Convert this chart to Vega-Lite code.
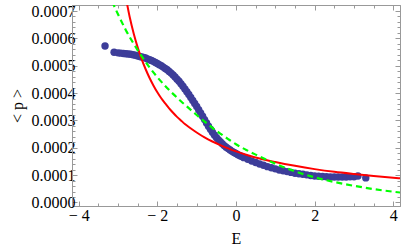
{
  "$schema": "https://vega.github.io/schema/vega-lite/v6.json",
  "width": 328,
  "height": 201,
  "autosize": {"type": "none"},
  "padding": {"left": 72, "top": 5, "right": 2, "bottom": 46},
  "background": "white",
  "config": {
    "view": {"stroke": "#999999", "strokeWidth": 1},
    "axis": {
      "grid": false,
      "domainColor": "#999999",
      "tickColor": "#999999",
      "labelFont": "Liberation Serif",
      "labelFontSize": 16,
      "labelColor": "#000000",
      "titleFont": "Liberation Serif",
      "titleFontSize": 16,
      "titleFontWeight": "normal",
      "titleColor": "#000000"
    }
  },
  "datasets": {
    "pts": [
      {"E": -3.33, "p": 0.000572}, {"E": -3.10, "p": 0.000549}, {"E": -3.00, "p": 0.000547}, {"E": -2.93, "p": 0.000546},
      {"E": -2.86, "p": 0.000545}, {"E": -2.80, "p": 0.000544}, {"E": -2.74, "p": 0.000543}, {"E": -2.68, "p": 0.000542},
      {"E": -2.62, "p": 0.000540}, {"E": -2.56, "p": 0.000538}, {"E": -2.50, "p": 0.000536}, {"E": -2.45, "p": 0.000534},
      {"E": -2.40, "p": 0.000532}, {"E": -2.35, "p": 0.000530}, {"E": -2.30, "p": 0.000528}, {"E": -2.25, "p": 0.000525},
      {"E": -2.20, "p": 0.000522}, {"E": -2.15, "p": 0.000519}, {"E": -2.10, "p": 0.000516}, {"E": -2.05, "p": 0.000512},
      {"E": -2.00, "p": 0.000508}, {"E": -1.95, "p": 0.000504}, {"E": -1.90, "p": 0.000500}, {"E": -1.85, "p": 0.000495},
      {"E": -1.80, "p": 0.000490}, {"E": -1.75, "p": 0.000485}, {"E": -1.70, "p": 0.000479}, {"E": -1.65, "p": 0.000473},
      {"E": -1.60, "p": 0.000466}, {"E": -1.55, "p": 0.000459}, {"E": -1.50, "p": 0.000451}, {"E": -1.45, "p": 0.000443},
      {"E": -1.40, "p": 0.000434}, {"E": -1.35, "p": 0.000425}, {"E": -1.30, "p": 0.000415}, {"E": -1.25, "p": 0.000405},
      {"E": -1.20, "p": 0.000395}, {"E": -1.15, "p": 0.000384}, {"E": -1.10, "p": 0.000373}, {"E": -1.05, "p": 0.000362},
      {"E": -1.00, "p": 0.000351}, {"E": -0.95, "p": 0.000339}, {"E": -0.90, "p": 0.000327}, {"E": -0.85, "p": 0.000315},
      {"E": -0.80, "p": 0.000303}, {"E": -0.75, "p": 0.000291}, {"E": -0.70, "p": 0.000279}, {"E": -0.65, "p": 0.000268},
      {"E": -0.60, "p": 0.000257}, {"E": -0.55, "p": 0.000247}, {"E": -0.50, "p": 0.000238}, {"E": -0.45, "p": 0.000230},
      {"E": -0.40, "p": 0.000222}, {"E": -0.35, "p": 0.000215}, {"E": -0.30, "p": 0.000208}, {"E": -0.25, "p": 0.000202},
      {"E": -0.20, "p": 0.000197}, {"E": -0.15, "p": 0.000192}, {"E": -0.10, "p": 0.000187}, {"E": -0.05, "p": 0.000183},
      {"E": 0.00, "p": 0.000179}, {"E": 0.05, "p": 0.000175}, {"E": 0.10, "p": 0.000171}, {"E": 0.15, "p": 0.000168},
      {"E": 0.20, "p": 0.000164}, {"E": 0.30, "p": 0.000158}, {"E": 0.40, "p": 0.000152}, {"E": 0.50, "p": 0.000146},
      {"E": 0.60, "p": 0.000141}, {"E": 0.70, "p": 0.000136}, {"E": 0.80, "p": 0.000131}, {"E": 0.90, "p": 0.000127},
      {"E": 1.00, "p": 0.000123}, {"E": 1.10, "p": 0.000119}, {"E": 1.20, "p": 0.000116}, {"E": 1.30, "p": 0.000113},
      {"E": 1.40, "p": 0.000110}, {"E": 1.50, "p": 0.000107}, {"E": 1.60, "p": 0.000105}, {"E": 1.70, "p": 0.000103},
      {"E": 1.80, "p": 0.000101}, {"E": 1.90, "p": 0.000099}, {"E": 2.00, "p": 0.000097}, {"E": 2.10, "p": 0.000096},
      {"E": 2.20, "p": 0.000095}, {"E": 2.30, "p": 0.000094}, {"E": 2.40, "p": 0.000093}, {"E": 2.50, "p": 0.000093},
      {"E": 2.60, "p": 0.000093}, {"E": 2.70, "p": 0.000093}, {"E": 2.80, "p": 0.000093}, {"E": 2.90, "p": 0.000094},
      {"E": 3.00, "p": 0.000094}, {"E": 3.10, "p": 0.000097}, {"E": 3.30, "p": 0.000090}
    ],
    "red": [
      {"E": -2.80, "p": 0.000749}, {"E": -2.70, "p": 0.000676}, {"E": -2.60, "p": 0.000617}, {"E": -2.50, "p": 0.000567},
      {"E": -2.40, "p": 0.000524}, {"E": -2.30, "p": 0.000488}, {"E": -2.20, "p": 0.000456}, {"E": -2.10, "p": 0.000428},
      {"E": -2.00, "p": 0.000403}, {"E": -1.90, "p": 0.000381}, {"E": -1.80, "p": 0.000362}, {"E": -1.70, "p": 0.000344},
      {"E": -1.60, "p": 0.000328}, {"E": -1.50, "p": 0.000313}, {"E": -1.40, "p": 0.000300}, {"E": -1.30, "p": 0.000287},
      {"E": -1.20, "p": 0.000276}, {"E": -1.00, "p": 0.000256}, {"E": -0.80, "p": 0.000238}, {"E": -0.60, "p": 0.000223},
      {"E": -0.40, "p": 0.000210}, {"E": -0.20, "p": 0.000198}, {"E": 0.00, "p": 0.000187}, {"E": 0.30, "p": 0.000173},
      {"E": 0.60, "p": 0.000161}, {"E": 1.00, "p": 0.000148}, {"E": 1.50, "p": 0.000134}, {"E": 2.00, "p": 0.000122},
      {"E": 2.50, "p": 0.000112}, {"E": 3.00, "p": 0.000104}, {"E": 3.50, "p": 0.0000968}, {"E": 4.20, "p": 0.0000882}
    ],
    "green": [
      {"E": -3.15, "p": 0.000735}, {"E": -3.00, "p": 0.000688}, {"E": -2.80, "p": 0.000630}, {"E": -2.60, "p": 0.000580},
      {"E": -2.40, "p": 0.000535}, {"E": -2.20, "p": 0.000494}, {"E": -2.00, "p": 0.000458}, {"E": -1.80, "p": 0.000426},
      {"E": -1.60, "p": 0.000397}, {"E": -1.40, "p": 0.000370}, {"E": -1.20, "p": 0.000345}, {"E": -1.00, "p": 0.000320},
      {"E": -0.80, "p": 0.000296}, {"E": -0.60, "p": 0.000273}, {"E": -0.40, "p": 0.000252}, {"E": -0.20, "p": 0.000232},
      {"E": 0.00, "p": 0.000213}, {"E": 0.25, "p": 0.000193}, {"E": 0.50, "p": 0.000175}, {"E": 0.75, "p": 0.000158},
      {"E": 1.00, "p": 0.000142}, {"E": 1.50, "p": 0.000114}, {"E": 2.00, "p": 0.000092}, {"E": 2.50, "p": 0.000075},
      {"E": 3.00, "p": 0.000061}, {"E": 3.50, "p": 0.000049}, {"E": 4.20, "p": 0.000036}
    ]
  },
  "resolve": {"axis": {"x": "independent", "y": "independent"}},
  "layer": [
    {
      "data": {"name": "pts"},
      "mark": {"type": "circle", "size": 55, "opacity": 1, "color": "#3D3D99"},
      "encoding": {
        "x": {
          "field": "E", "type": "quantitative",
          "scale": {"domain": [-4.17, 4.17], "nice": false, "zero": false},
          "axis": {
            "orient": "bottom", "title": "E", "titlePadding": 7,
            "values": [-4, -3.5, -3, -2.5, -2, -1.5, -1, -0.5, 0, 0.5, 1, 1.5, 2, 2.5, 3, 3.5, 4],
            "tickSize": {"condition": {"test": "abs(datum.value % 2) < 0.01", "value": -5}, "value": -3},
            "labelPadding": 6,
            "labelExpr": "abs(datum.value % 2) < 0.01 ? (datum.value < 0 ? '\u2212 ' + abs(datum.value) : '' + datum.value) : ''"
          }
        },
        "y": {
          "field": "p", "type": "quantitative",
          "scale": {"domain": [-0.0000128, 0.000722], "nice": false, "zero": false},
          "axis": {
            "orient": "left", "title": "< p >", "titlePadding": 6,
            "values": [0, 0.00002, 0.00004, 0.00006, 0.00008, 0.0001, 0.00012, 0.00014, 0.00016, 0.00018, 0.0002, 0.00022, 0.00024, 0.00026, 0.00028, 0.0003, 0.00032, 0.00034, 0.00036, 0.00038, 0.0004, 0.00042, 0.00044, 0.00046, 0.00048, 0.0005, 0.00052, 0.00054, 0.00056, 0.00058, 0.0006, 0.00062, 0.00064, 0.00066, 0.00068, 0.0007],
            "tickSize": {"condition": {"test": "round(datum.value * 100000) % 5 == 0", "value": -5}, "value": -3},
            "labelPadding": 2,
            "labelExpr": "round(datum.value * 100000) % 5 == 0 ? format(datum.value, '.4f') : ''"
          }
        }
      }
    },
    {
      "data": {"name": "red"},
      "mark": {"type": "line", "color": "#FF0000", "strokeWidth": 2, "interpolate": "monotone", "clip": true},
      "encoding": {
        "x": {
          "field": "E", "type": "quantitative",
          "scale": {"domain": [-4.17, 4.17], "nice": false, "zero": false},
          "axis": {
            "orient": "top", "title": null, "labels": false,
            "values": [-4, -3.5, -3, -2.5, -2, -1.5, -1, -0.5, 0, 0.5, 1, 1.5, 2, 2.5, 3, 3.5, 4],
            "tickSize": {"condition": {"test": "abs(datum.value % 2) < 0.01", "value": -5}, "value": -3}
          }
        },
        "y": {
          "field": "p", "type": "quantitative",
          "scale": {"domain": [-0.0000128, 0.000722], "nice": false, "zero": false},
          "axis": {
            "orient": "right", "title": null, "labels": false,
            "values": [0, 0.00002, 0.00004, 0.00006, 0.00008, 0.0001, 0.00012, 0.00014, 0.00016, 0.00018, 0.0002, 0.00022, 0.00024, 0.00026, 0.00028, 0.0003, 0.00032, 0.00034, 0.00036, 0.00038, 0.0004, 0.00042, 0.00044, 0.00046, 0.00048, 0.0005, 0.00052, 0.00054, 0.00056, 0.00058, 0.0006, 0.00062, 0.00064, 0.00066, 0.00068, 0.0007],
            "tickSize": {"condition": {"test": "round(datum.value * 100000) % 5 == 0", "value": -5}, "value": -3}
          }
        }
      }
    },
    {
      "data": {"name": "green"},
      "mark": {"type": "line", "color": "#00FF00", "strokeWidth": 2.2, "strokeDash": [6, 4], "interpolate": "monotone", "clip": true},
      "encoding": {
        "x": {"field": "E", "type": "quantitative", "scale": {"domain": [-4.17, 4.17], "nice": false, "zero": false}, "axis": null},
        "y": {"field": "p", "type": "quantitative", "scale": {"domain": [-0.0000128, 0.000722], "nice": false, "zero": false}, "axis": null}
      }
    }
  ]
}
